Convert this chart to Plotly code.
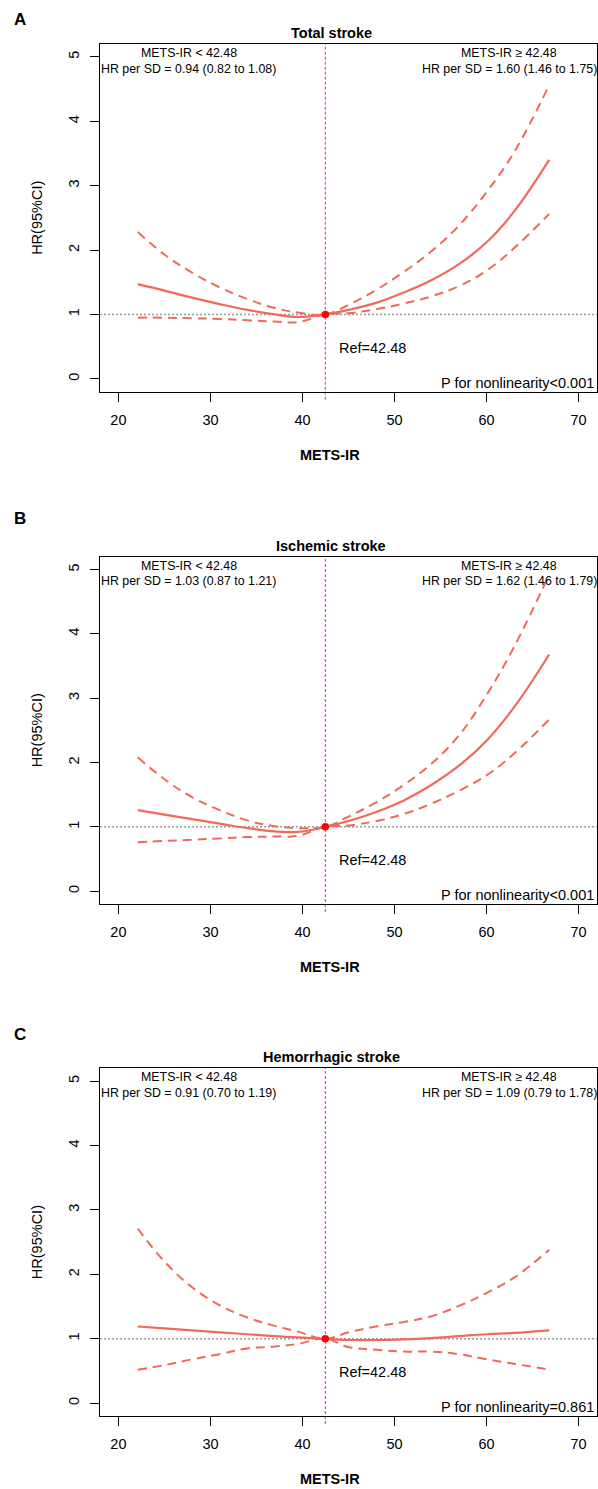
import plotly.graph_objects as go

W, H = 598, 1489

mets_ir = [22.1, 25, 28, 31, 34, 37, 39.5, 42.48, 45, 48, 51, 54, 57, 60, 63, 66.8]

# A - total stroke
total_hr = [1.47, 1.37, 1.26, 1.16, 1.07, 1.00, 0.96, 1.00, 1.07, 1.18, 1.34, 1.53, 1.78, 2.12, 2.60, 3.40]
total_hi = [2.28, 1.93, 1.65, 1.42, 1.24, 1.10, 1.03, 1.00, 1.15, 1.38, 1.66, 1.98, 2.38, 2.90, 3.52, 4.56]
total_lo = [0.95, 0.95, 0.94, 0.93, 0.91, 0.89, 0.88, 1.00, 1.02, 1.08, 1.17, 1.28, 1.44, 1.68, 2.03, 2.56]

# B - ischemic stroke
isch_hr = [1.26, 1.19, 1.12, 1.05, 0.98, 0.93, 0.92, 1.00, 1.09, 1.23, 1.41, 1.65, 1.95, 2.34, 2.86, 3.68]
isch_hi = [2.08, 1.74, 1.46, 1.26, 1.10, 1.01, 0.98, 1.00, 1.16, 1.38, 1.65, 1.98, 2.42, 3.05, 3.80, 4.92]
isch_lo = [0.76, 0.78, 0.80, 0.82, 0.84, 0.85, 0.86, 1.00, 1.02, 1.09, 1.20, 1.36, 1.56, 1.80, 2.14, 2.67]

# C - hemorrhagic stroke
hem_hr = [1.19, 1.16, 1.13, 1.10, 1.07, 1.04, 1.02, 1.00, 0.98, 0.98, 0.99, 1.01, 1.04, 1.07, 1.09, 1.13]
hem_hi = [2.71, 2.20, 1.80, 1.52, 1.33, 1.20, 1.11, 1.00, 1.10, 1.19, 1.26, 1.35, 1.51, 1.71, 1.95, 2.38]
hem_lo = [0.52, 0.59, 0.68, 0.76, 0.85, 0.88, 0.92, 1.00, 0.87, 0.83, 0.80, 0.80, 0.76, 0.68, 0.61, 0.52]

ref_value = 42.48

panel_tags = ["A", "B", "C"]
titles = ["Total stroke", "Ischemic stroke", "Hemorrhagic stroke"]
low_text = ["HR per SD = 0.94 (0.82 to 1.08)",
            "HR per SD = 1.03 (0.87 to 1.21)",
            "HR per SD = 0.91 (0.70 to 1.19)"]
high_text = ["HR per SD = 1.60 (1.46 to 1.75)",
             "HR per SD = 1.62 (1.46 to 1.79)",
             "HR per SD = 1.09 (0.79 to 1.78)"]
p_text = ["P for nonlinearity<0.001",
          "P for nonlinearity<0.001",
          "P for nonlinearity=0.861"]

x_ticks = [20, 30, 40, 50, 60, 70]
y_ticks = [0, 1, 2, 3, 4, 5]

curves = [(total_hr, total_lo, total_hi), (isch_hr, isch_lo, isch_hi), (hem_hr, hem_lo, hem_hi)]

# pixel boxes (top, bottom) of each panel, and y of panel letters
boxes = [(44, 391.7), (556.7, 904), (1068.3, 1416)]
tag_y = [19, 519, 1034]
box_left, box_right = 100, 597

line_col = "#EF6A5A"
FONT = "Arial, Liberation Sans, sans-serif"


def px(x, y):
    return x / W, 1 - y / H


fig = go.Figure()
annos = []
shapes = []

for i in range(3):
    n = "" if i == 0 else str(i + 1)
    xa, ya = "x" + n, "y" + n
    hr, lo, hi = curves[i]
    top, bot = boxes[i]

    for vals, dash, w in [(lo, "9px,6px", 2), (hi, "9px,6px", 2), (hr, "solid", 2.2)]:
        fig.add_trace(go.Scatter(x=mets_ir, y=vals, mode="lines", xaxis=xa, yaxis=ya,
                                 line=dict(color=line_col, width=w, dash=dash, shape="spline", smoothing=1.1),
                                 showlegend=False, hoverinfo="skip"))
    fig.add_trace(go.Scatter(x=[ref_value], y=[1], mode="markers", xaxis=xa, yaxis=ya,
                             marker=dict(color="#FF0000", size=7.5), showlegend=False))

    ax = dict(domain=[box_left / W, box_right / W], range=[18, 72], tickvals=x_ticks,
              ticks="outside", ticklen=9, tickcolor="black", showline=True, linecolor="black",
              linewidth=1, mirror=True, showgrid=False, zeroline=False, anchor=ya,
              ticklabelstandoff=6, tickfont=dict(size=14.5, color="black", family=FONT))
    ay = dict(domain=[1 - bot / H, 1 - top / H], range=[-0.2, 5.2], tickvals=y_ticks,
              ticks="outside", ticklen=9, tickcolor="black", showline=True, linecolor="black",
              linewidth=1, mirror=True, showgrid=False, zeroline=False, anchor=xa,
              tickangle=-90, ticklabelstandoff=5, tickfont=dict(size=14.5, color="black", family=FONT))
    fig.update_layout(**{"xaxis" + n: ax, "yaxis" + n: ay})

    # reference lines
    shapes.append(dict(type="line", xref=xa + " domain", yref=ya, x0=0, x1=1, y0=1, y1=1,
                       line=dict(color="#9A9A9A", width=1.4, dash="2px,2px"), layer="below"))
    shapes.append(dict(type="line", xref=xa, yref="paper", x0=ref_value, x1=ref_value,
                       y0=1 - (bot + 8) / H, y1=1 - top / H,
                       line=dict(color="#FF00FF", width=1, dash="3px,2px"), layer="below"))

    # texts
    def add(text, x, y, size, xanchor="center", angle=0):
        ux, uy = px(x, y)
        annos.append(dict(text=text, x=ux, y=uy, xref="paper", yref="paper", showarrow=False,
                          xanchor=xanchor, yanchor="middle", textangle=angle,
                          font=dict(size=size, color="black", family=FONT)))

    add("<b>" + panel_tags[i] + "</b>", 20, tag_y[i], 17)
    add("<b>" + titles[i] + "</b>", 331, top - 11, 14.5)
    add("<b>METS-IR</b>", 330, bot + 63, 14.5)
    add("HR(95%CI)", 37, (top + bot) / 2, 14.5, angle=-90)
    add("METS-IR &lt; 42.48", 188.5, top + 9, 12.4)
    add(low_text[i], 188.5, top + 24.5, 12.4)
    add("METS-IR ≥ 42.48", 509, top + 9, 12.4)
    add(high_text[i], 509, top + 24.5, 12.4)
    add(p_text[i], 596, bot - 9, 14.5, xanchor="right")
    annos.append(dict(text="Ref=42.48", x=43.8, y=0.48, xref=xa, yref=ya, showarrow=False,
                      xanchor="left", yanchor="middle",
                      font=dict(size=14.5, color="black", family=FONT)))

fig.update_layout(width=W, height=H, margin=dict(l=0, r=0, t=0, b=0),
                  paper_bgcolor="white", plot_bgcolor="white",
                  annotations=annos, shapes=shapes, font=dict(family=FONT))

# drop the default page margin so the figure sits at the window's corner
fig.write_html("out.html", config={"displayModeBar": False},
               post_script="document.body.style.margin='0px';"
                           "document.documentElement.style.overflow='hidden';")
